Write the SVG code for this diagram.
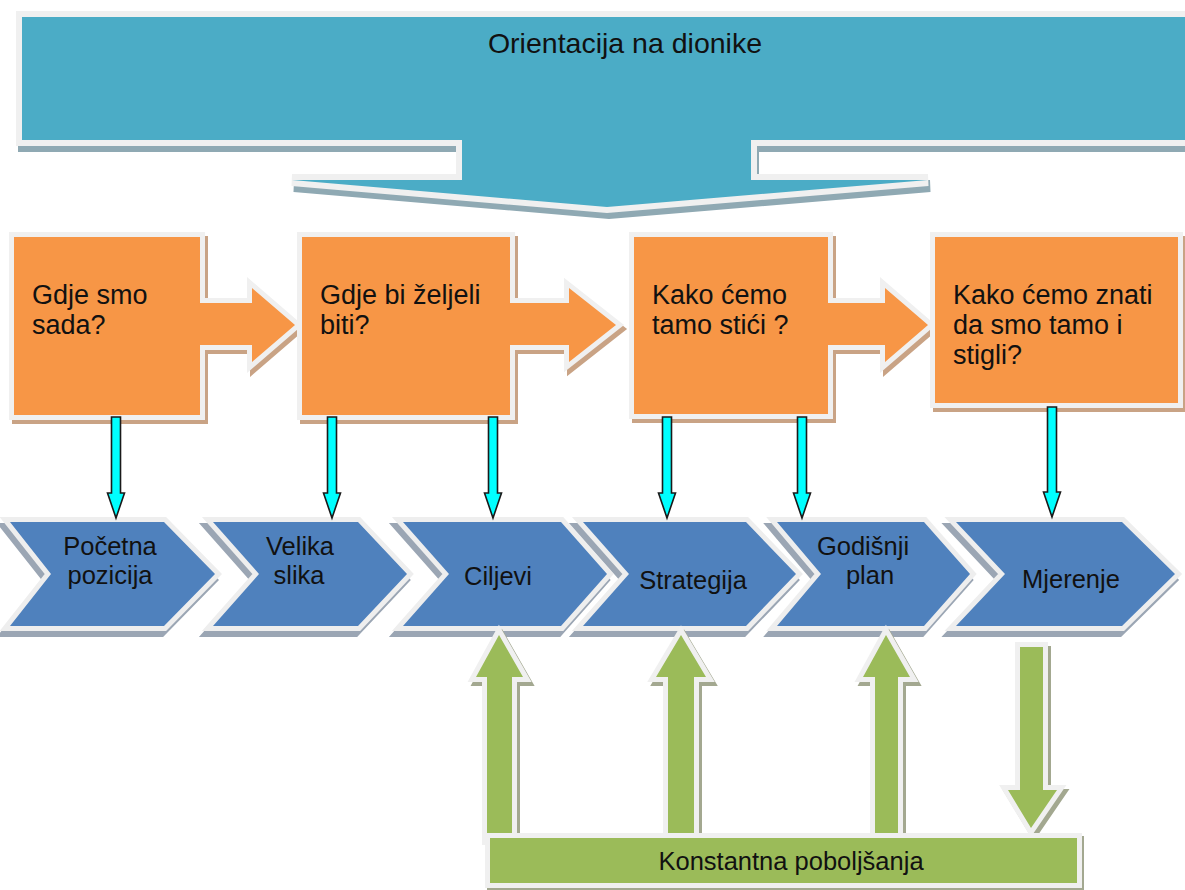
<svg xmlns="http://www.w3.org/2000/svg" xmlns:xlink="http://www.w3.org/1999/xlink" width="1185" height="890" viewBox="0 0 1185 890">
<style>
  text { font-family: "Liberation Sans", Arial, sans-serif; fill: #111; }
  .bn { fill: #4bacc6; stroke: #f0f0f0; stroke-width: 12; paint-order: stroke; }
  .bns { fill: #8fa9b3; stroke: #8fa9b3; stroke-width: 12; }
  .or { fill: #f79646; stroke: #f0f0f0; stroke-width: 10; paint-order: stroke; }
  .ors { fill: #c9a385; stroke: #c9a385; stroke-width: 10; }
  .ch { fill: #4f81bd; stroke: #eeeeee; stroke-width: 10; paint-order: stroke; }
  .chs { fill: #9ba6b4; stroke: #9ba6b4; stroke-width: 10; }
  .gr { fill: #9bbb59; stroke: #f0f0f0; stroke-width: 10; paint-order: stroke; }
  .grs { fill: #a3a890; stroke: #a3a890; stroke-width: 10; }
  .cy { fill: #00ffff; stroke: #1a1a1a; stroke-width: 1.6; stroke-linejoin: miter; }
  .t27 { font-size: 27px; }
  .t24 { font-size: 25.5px; text-anchor: middle; }
</style>
<defs>
  <path id="pBanner" d="M22,17 H1200 V140 H751 V180 H928 L607,207 L292,180 H462 V140 H22 Z"/>
  <path id="pO1" d="M14,237 H200 V303 H252 V288 L295,325 L252,362 V345 H200 V415 H14 Z"/>
  <path id="pO2" d="M302,237 H510 V303 H569 V288 L616,325 L569,362 V345 H510 V415 H302 Z"/>
  <path id="pO3" d="M634,237 H828 V303 H885 V288 L928,325 L885,362 V345 H828 V414 H634 Z"/>
  <path id="pO4" d="M935,237 H1178 V403 H935 Z"/>
  <path id="pC1" d="M10,522 H164 L215,574 L164,626 H10 L51,574 Z"/>
  <path id="pC2" d="M213,522 H358 L407,574 L358,626 H213 L259,574 Z"/>
  <path id="pC3" d="M403,522 H561 L607,574 L561,626 H403 L449,574 Z"/>
  <path id="pC4" d="M583,522 H746 L796,574 L746,626 H583 L629,574 Z"/>
  <path id="pC5" d="M777,522 H924 L970,574 L924,626 H777 L821,574 Z"/>
  <path id="pC6" d="M956,522 H1122 L1175,574 L1122,626 H956 L1005,574 Z"/>
  <path id="pG1" d="M499,635 L523,677 H512 V840 H487 V677 H476 Z"/>
  <path id="pG2" d="M681,635 L706,677 H694 V840 H668 V677 H656 Z"/>
  <path id="pG3" d="M886,635 L910,677 H898 V840 H875 V677 H863 Z"/>
  <path id="pG4" d="M1020,647 H1043 V790 H1057 L1031,828 L1008,790 H1020 Z"/>
  <path id="pBar" d="M490,838 H1077 V883 H490 Z"/>
</defs>

<g id="stakeholders">
  <use xlink:href="#pBanner" class="bns" transform="translate(2,6)"/>
  <use xlink:href="#pBanner" class="bn"/>
  <text x="625" y="53" font-size="28.5" text-anchor="middle">Orientacija na dionike</text>
</g>

<g id="q1">
  <use xlink:href="#pO1" class="ors" transform="translate(3,4)"/>
  <use xlink:href="#pO1" class="or"/>
  <text class="t27" x="32" y="304">Gdje smo</text>
  <text class="t27" x="32" y="334">sada?</text>
</g>
<g id="q2">
  <use xlink:href="#pO2" class="ors" transform="translate(3,4)"/>
  <use xlink:href="#pO2" class="or"/>
  <text class="t27" x="320" y="304">Gdje bi željeli</text>
  <text class="t27" x="320" y="334">biti?</text>
</g>
<g id="q3">
  <use xlink:href="#pO3" class="ors" transform="translate(3,4)"/>
  <use xlink:href="#pO3" class="or"/>
  <text class="t27" x="652" y="304">Kako ćemo</text>
  <text class="t27" x="652" y="334">tamo stići ?</text>
</g>
<g id="q4">
  <use xlink:href="#pO4" class="ors" transform="translate(3,4)"/>
  <use xlink:href="#pO4" class="or"/>
  <text class="t27" x="953" y="304">Kako ćemo znati</text>
  <text class="t27" x="953" y="334">da smo tamo i</text>
  <text class="t27" x="953" y="364">stigli?</text>
</g>

<g id="pocetna">
  <use xlink:href="#pC1" class="chs" transform="translate(-3,6)"/>
  <use xlink:href="#pC1" class="ch"/>
  <text class="t24" x="110" y="555">Početna</text>
  <text class="t24" x="110" y="584">pozicija</text>
</g>
<g id="velika">
  <use xlink:href="#pC2" class="chs" transform="translate(-3,6)"/>
  <use xlink:href="#pC2" class="ch"/>
  <text class="t24" x="300" y="555">Velika</text>
  <text class="t24" x="299" y="584">slika</text>
</g>
<g id="ciljevi">
  <use xlink:href="#pC3" class="chs" transform="translate(-3,6)"/>
  <use xlink:href="#pC3" class="ch"/>
  <text class="t24" x="498" y="585">Ciljevi</text>
</g>
<g id="strategija">
  <use xlink:href="#pC4" class="chs" transform="translate(-3,6)"/>
  <use xlink:href="#pC4" class="ch"/>
  <text class="t24" x="693" y="589">Strategija</text>
</g>
<g id="godisnji">
  <use xlink:href="#pC5" class="chs" transform="translate(-3,6)"/>
  <use xlink:href="#pC5" class="ch"/>
  <text class="t24" x="863" y="555">Godišnji</text>
  <text class="t24" x="870" y="584">plan</text>
</g>
<g id="mjerenje">
  <use xlink:href="#pC6" class="chs" transform="translate(-3,6)"/>
  <use xlink:href="#pC6" class="ch"/>
  <text class="t24" x="1071" y="588">Mjerenje</text>
</g>

<g id="connectors">
  <g id="cyan-arrows">
    <path class="cy" d="M111.5,417 H120.5 V493 H124.5 L116,518 L107.5,493 H111.5 Z"/>
    <path class="cy" d="M327.5,417 H336.5 V493 H340.5 L332,518 L323.5,493 H327.5 Z"/>
    <path class="cy" d="M488.5,417 H497.5 V493 H501.5 L493,518 L484.5,493 H488.5 Z"/>
    <path class="cy" d="M662.5,417 H671.5 V493 H675.5 L667,518 L658.5,493 H662.5 Z"/>
    <path class="cy" d="M797.5,417 H806.5 V493 H810.5 L802,518 L793.5,493 H797.5 Z"/>
    <path class="cy" d="M1047.5,407 H1056.5 V492 H1060.5 L1052,517 L1043.5,492 H1047.5 Z"/>
  </g>
  <g id="green-arrows">
    <use xlink:href="#pG1" class="grs" transform="translate(3,4)"/>
    <use xlink:href="#pG1" class="gr"/>
    <use xlink:href="#pG2" class="grs" transform="translate(3,4)"/>
    <use xlink:href="#pG2" class="gr"/>
    <use xlink:href="#pG3" class="grs" transform="translate(3,4)"/>
    <use xlink:href="#pG3" class="gr"/>
    <use xlink:href="#pG4" class="grs" transform="translate(3,4)"/>
    <use xlink:href="#pG4" class="gr"/>
  </g>
</g>

<g id="poboljsanja">
  <use xlink:href="#pBar" class="grs" transform="translate(2,3)"/>
  <use xlink:href="#pBar" class="gr"/>
  <text class="t24" x="791" y="870">Konstantna poboljšanja</text>
</g>
</svg>
